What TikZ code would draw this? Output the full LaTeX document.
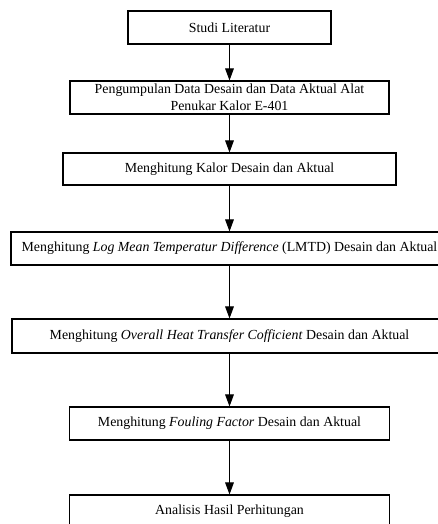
\documentclass[tikz,border=0pt]{standalone}
\usepackage{fontspec}
\setmainfont{Liberation Serif}
\usetikzlibrary{arrows.meta}
\begin{document}
\begin{tikzpicture}[x=0.75pt,y=-0.75pt,
  box/.style={draw, line width=0.8pt, inner sep=0pt, align=center,
    font=\fontsize{10.4}{12.6}\selectfont, minimum height=24.75pt},
  flow/.style={line width=0.75pt, -{Triangle[length=9pt,width=6.5pt]}}]
\clip (0,0) rectangle (438,524);
\fill[white] (0,0) rectangle (438,524);
\node[box, minimum width=152.25pt] (b1) at (229.5,27.5) {Studi Literatur};
\node[box, minimum width=239.25pt] (b2) at (229.5,97.5) {Pengumpulan Data Desain dan Data Aktual Alat\\Penukar Kalor E-401};
\node[box, minimum width=249.75pt, minimum height=24pt] (b3) at (229.5,169) {Menghitung Kalor Desain dan Aktual};
\node[box, minimum width=327.75pt] (b4) at (229.5,248.5) {Menghitung \textit{Log Mean Temperatur Difference} (LMTD) Desain dan Aktual};
\node[box, minimum width=326.25pt, minimum height=25.5pt] (b5) at (229.5,336) {Menghitung \textit{Overall Heat Transfer Cofficient} Desain dan Aktual};
\node[box, minimum width=240pt] (b6) at (229.5,423.5) {Menghitung \textit{Fouling Factor} Desain dan Aktual};
\node[box, minimum width=240pt] (b7) at (229.5,511.5) {Analisis Hasil Perhitungan};
\draw[flow] (b1.south) -- (b2.north);
\draw[flow] (b2.south) -- (b3.north);
\draw[flow] (b3.south) -- (b4.north);
\draw[flow] (b4.south) -- (b5.north);
\draw[flow] (b5.south) -- (b6.north);
\draw[flow] (b6.south) -- (b7.north);
\end{tikzpicture}
\end{document}
